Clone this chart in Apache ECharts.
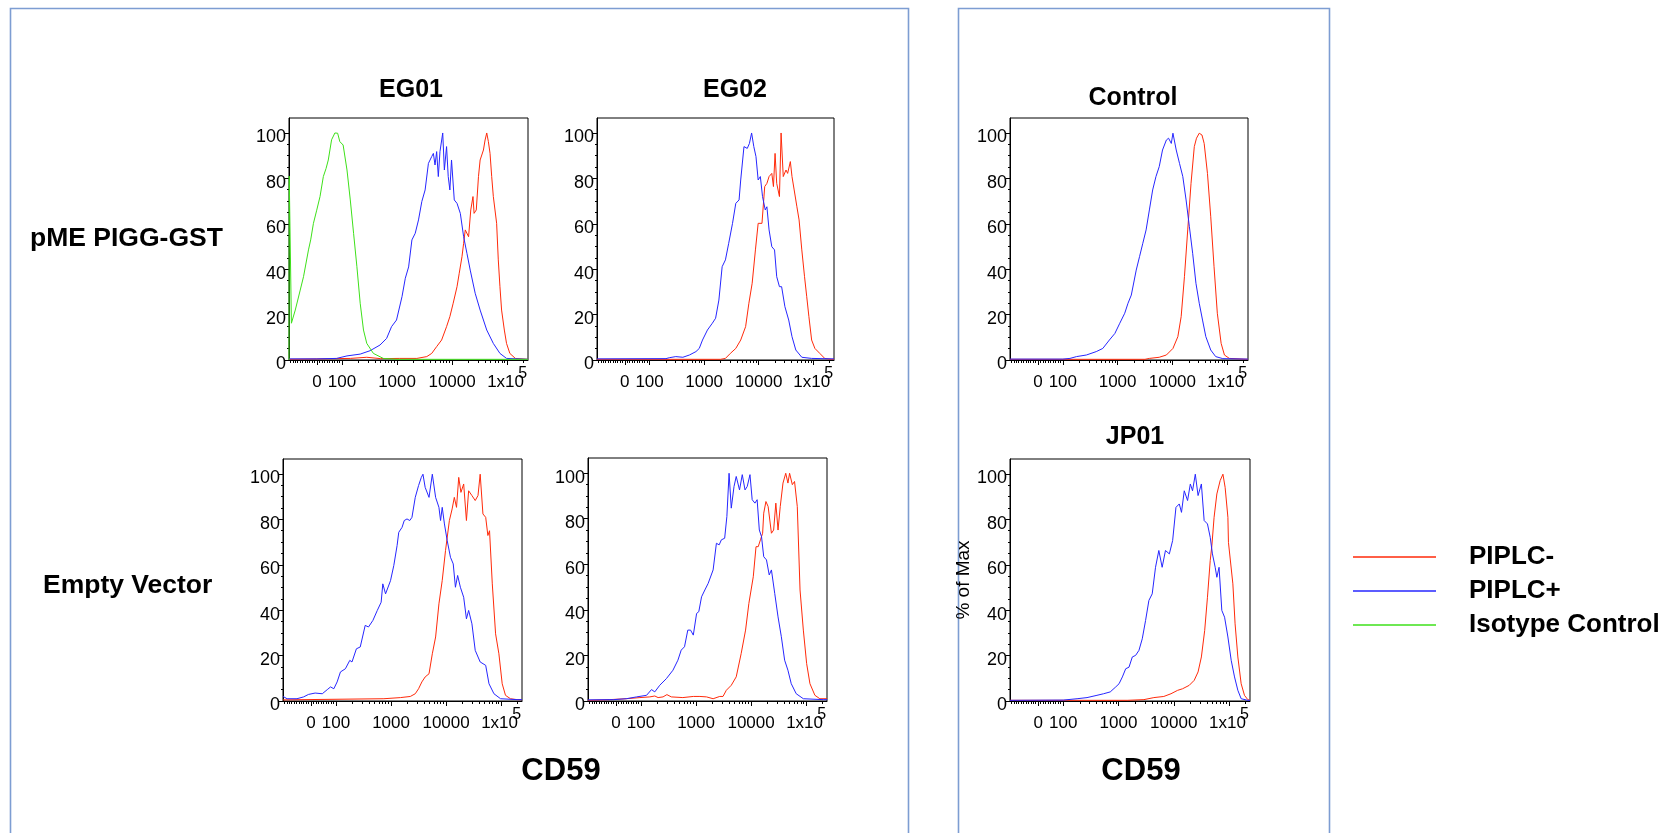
<!DOCTYPE html>
<html><head><meta charset="utf-8">
<script src="https://cdn.jsdelivr.net/npm/echarts@6/dist/echarts.min.js"></script>
<style>html,body{margin:0;padding:0;background:#fff}#c{width:1675px;height:833px}</style>
</head><body><div id="c"></div>
<script>
// ---------------- DATA ----------------
// x values are in axis display units (log10 of CD59 intensity; biexponential region below 100)
const xTickValues = [1.545, 2, 3, 4, 5];
const xTickLabels = ['0', '100', '1000', '10000', '1x10^5'];
const yTickValues = [0, 20, 40, 60, 80, 100];
const yTickLabels = ['0', '20', '40', '60', '80', '100'];
const seriesNames = ['PIPLC-', 'PIPLC+', 'Isotype Control'];
const panelTitles = ['EG01', 'EG02', 'Control', '', '', 'JP01'];
const rowLabels = ['pME PIGG-GST', 'Empty Vector'];
const xAxisTitle = 'CD59';
const yAxisTitle = '% of Max';

const eg01PmeGreen = [[1.036,0],[1.04,81],[1.045,81],[1.08,16.2],[1.15,22],[1.24,30.8],[1.30,36.7],[1.39,48.5],[1.43,52.9],[1.48,60.2],[1.54,66],[1.60,72],[1.66,80.8],[1.71,84.4],[1.75,88.1],[1.81,97],[1.87,100],[1.92,99.9],[1.96,96.2],[2.02,94.7],[2.09,83.7],[2.15,70.5],[2.21,55.8],[2.27,41.1],[2.33,25],[2.39,13.2],[2.45,7.3],[2.57,2.9],[2.75,0.7],[2.99,0.3],[5.38,0.3]];
const eg01PmeBlue = [[1.036,0.5],[1.54,0.5],[1.90,0.7],[2.09,1.8],[2.33,2.6],[2.51,4.1],[2.69,6.6],[2.81,9.5],[2.90,14.7],[2.99,17.6],[3.09,27.9],[3.15,36],[3.21,41],[3.27,52.9],[3.33,55.8],[3.39,61.7],[3.45,69.8],[3.51,74.9],[3.57,86.6],[3.63,89.6],[3.66,91],[3.69,85.9],[3.72,91.8],[3.75,80.8],[3.78,91.8],[3.83,100],[3.86,83.7],[3.90,94],[3.93,80.8],[3.96,74.9],[3.99,88.1],[4.04,70.5],[4.09,69],[4.15,64.6],[4.21,54.3],[4.27,47],[4.33,39.6],[4.42,29.4],[4.51,22],[4.63,13.2],[4.75,7.3],[4.87,2.9],[4.99,0.7],[5.38,0.3]];
const eg01PmeRed = [[1.036,0.3],[2.15,0.7],[2.45,1.2],[2.7,0.6],[3.05,0.7],[3.36,0.7],[3.54,1.5],[3.63,2.9],[3.72,5.9],[3.81,8.8],[3.90,14.7],[3.96,19.1],[4.02,25],[4.09,32.3],[4.13,38.2],[4.18,45.5],[4.21,51.4],[4.24,57.3],[4.27,57.3],[4.30,54.3],[4.34,66.1],[4.38,72],[4.40,64.6],[4.44,66.1],[4.48,80.8],[4.51,88.1],[4.54,90.3],[4.57,92.5],[4.60,96.9],[4.63,100],[4.66,96.2],[4.69,91],[4.72,80.8],[4.75,72],[4.78,72],[4.81,60.2],[4.84,44.1],[4.87,32.3],[4.90,22],[4.95,13.2],[4.99,7.3],[5.05,2.9],[5.15,0.7],[5.38,0.3]];

const eg02PmeBlue = [[1.036,0.5],[2.30,0.6],[2.36,1],[2.48,1.5],[2.61,1.2],[2.73,2.2],[2.85,3.7],[2.91,5.1],[2.97,8.8],[3.06,13.2],[3.15,16.2],[3.21,18.4],[3.27,26.4],[3.33,41.1],[3.39,44.1],[3.45,51.4],[3.52,60.2],[3.58,69],[3.64,70.5],[3.67,79.3],[3.73,94],[3.79,93.2],[3.83,95.4],[3.87,100],[3.91,94],[3.95,89.6],[3.99,79.3],[4.03,80.8],[4.07,72],[4.12,66.1],[4.15,67.5],[4.19,57.3],[4.24,49.9],[4.29,48.5],[4.33,36.7],[4.38,32.3],[4.42,32.3],[4.48,23.5],[4.55,17.6],[4.61,10.3],[4.68,4.4],[4.79,1.2],[4.97,0.7],[5.38,0.5]];
const eg02PmeRed = [[1.036,0.3],[3.30,0.3],[3.39,0.7],[3.48,2.9],[3.58,5.1],[3.67,8.8],[3.76,14.7],[3.82,25],[3.88,33.8],[3.94,48.5],[3.99,60.2],[4.06,60.2],[4.11,76.4],[4.15,77.8],[4.19,80.8],[4.24,82.2],[4.27,76.4],[4.30,91],[4.33,77.8],[4.38,72],[4.41,100],[4.45,80.8],[4.50,83.7],[4.53,82.2],[4.58,87.4],[4.61,80.8],[4.65,74.9],[4.70,67.5],[4.74,61.7],[4.79,48.5],[4.84,36.7],[4.88,27.9],[4.92,19.1],[4.97,8.8],[5.03,5.1],[5.12,2.9],[5.21,0.7],[5.33,0.3],[5.38,0.3]];

const ctrlBlue = [[1.036,0.4],[2.0,0.4],[2.13,0.7],[2.25,1.5],[2.43,2.2],[2.61,3.7],[2.73,5.1],[2.85,8.8],[2.95,11.7],[3.04,16.2],[3.13,20.6],[3.19,25],[3.25,28.6],[3.34,39.6],[3.40,45.5],[3.46,51.4],[3.52,57.3],[3.58,66.1],[3.64,74.9],[3.70,80.8],[3.76,85.2],[3.82,92.5],[3.89,96.9],[3.93,97.7],[3.98,95.4],[4.01,99.9],[4.07,92.5],[4.13,86.6],[4.19,80.8],[4.25,70.5],[4.31,58.7],[4.37,47],[4.43,33.8],[4.49,25],[4.55,17.6],[4.61,10.3],[4.70,4.4],[4.79,1.5],[4.92,0.6],[5.38,0.4]];
const ctrlRed = [[1.036,0.3],[3.5,0.3],[3.58,0.7],[3.76,1.2],[3.89,2.2],[4.01,5.1],[4.10,10.3],[4.16,19.1],[4.22,36.7],[4.28,57.3],[4.34,77.8],[4.40,94],[4.44,97.7],[4.49,99.9],[4.54,99.1],[4.58,95.4],[4.64,82.2],[4.70,63.1],[4.76,41.1],[4.82,20.6],[4.89,7.3],[4.95,2.2],[5.04,0.7],[5.38,0.3]];

const eg01EvBlue = [[1.036,2],[1.05,1.8],[1.11,1],[1.29,1],[1.41,1.8],[1.50,2.9],[1.62,3.5],[1.75,3.2],[1.84,5],[1.90,6.2],[1.96,5.4],[2.02,8.4],[2.08,12.8],[2.17,14.2],[2.25,17.9],[2.29,17.2],[2.37,23],[2.44,23.8],[2.53,33.3],[2.59,32.6],[2.67,35.5],[2.75,39.9],[2.82,43.5],[2.85,51.6],[2.90,47.2],[2.99,53],[3.05,59.7],[3.11,68.5],[3.14,74.3],[3.20,76.5],[3.24,79.5],[3.29,80.2],[3.34,79.5],[3.38,80.9],[3.44,89.7],[3.50,94.9],[3.55,98.5],[3.58,99.9],[3.62,94.1],[3.69,89.7],[3.75,99.9],[3.81,89.7],[3.87,85.3],[3.90,79.5],[3.93,85.3],[3.97,78],[4.02,70.7],[4.08,63.3],[4.13,60.4],[4.17,50.1],[4.21,55.3],[4.26,50.1],[4.32,45.7],[4.37,36.2],[4.41,39.9],[4.47,34],[4.53,22.3],[4.62,17.2],[4.72,15.7],[4.78,7.6],[4.87,3.2],[4.99,1],[5.29,0.6],[5.38,0.6]];
const eg01EvRed = [[1.036,0.5],[2.87,1],[3.17,1.5],[3.35,2],[3.44,3.2],[3.50,5.4],[3.56,8.4],[3.62,10.6],[3.69,12],[3.75,20.8],[3.81,28.2],[3.87,42.8],[3.93,53.1],[3.99,66.3],[4.06,79.5],[4.11,84.6],[4.15,89.7],[4.19,85.3],[4.23,98.5],[4.27,91.9],[4.32,95.6],[4.37,79.5],[4.41,92.6],[4.47,90.5],[4.53,88.3],[4.58,90.5],[4.62,99.9],[4.67,82.4],[4.72,80.9],[4.76,72.9],[4.79,75],[4.84,51.6],[4.90,29.6],[4.96,20.8],[5.02,7.6],[5.08,2.5],[5.17,1],[5.29,0.6],[5.38,0.6]];

const eg02EvBlue = [[1.036,0.5],[1.5,0.6],[1.73,1],[1.92,1.8],[2.10,2.5],[2.19,5],[2.25,4],[2.34,6.9],[2.46,9.8],[2.58,13.5],[2.67,17.9],[2.73,22.3],[2.79,23.8],[2.85,31.1],[2.90,31.1],[2.95,28.9],[3.01,38.4],[3.05,39.2],[3.10,45.7],[3.16,48.7],[3.22,51.6],[3.31,57.5],[3.37,69.2],[3.42,68.5],[3.46,70.7],[3.52,71.4],[3.56,80.9],[3.60,99.9],[3.64,84.6],[3.69,94.1],[3.73,98.5],[3.79,92.6],[3.84,99.3],[3.89,92.6],[3.93,94.1],[3.98,99.3],[4.02,88.3],[4.07,86.8],[4.11,88.3],[4.15,75],[4.19,72.1],[4.23,63.3],[4.28,61.9],[4.33,55.3],[4.37,57.5],[4.43,47.2],[4.49,36.9],[4.55,28.2],[4.61,17.9],[4.67,13.5],[4.73,7.6],[4.82,3.2],[4.95,1],[5.31,0.6],[5.38,0.6]];
const eg02EvRed = [[1.036,0.3],[1.07,0.3],[1.43,0.6],[1.73,1],[1.98,1.5],[2.16,1.8],[2.25,2.2],[2.31,1.5],[2.40,1.8],[2.47,2.8],[2.55,1.8],[2.76,1.5],[2.95,2],[3.07,2],[3.19,1.8],[3.31,1],[3.43,2],[3.49,2],[3.55,4.7],[3.64,6.9],[3.73,10.6],[3.82,20.8],[3.90,31.1],[3.96,42.8],[4.04,54.5],[4.09,67.7],[4.13,67.7],[4.17,70.7],[4.21,73.6],[4.23,82.4],[4.27,87.5],[4.31,85.3],[4.37,73.6],[4.41,75],[4.45,86.8],[4.49,75],[4.53,85.3],[4.58,95.6],[4.63,99.9],[4.67,95.6],[4.70,99.9],[4.75,94.9],[4.79,96.3],[4.84,85.3],[4.89,48.7],[4.95,31.1],[5.01,16.4],[5.07,7.6],[5.16,2.5],[5.25,1],[5.38,1]];

const jp01Blue = [[1.036,0.3],[2.0,0.4],[2.25,1],[2.43,1.5],[2.61,2.5],[2.73,3.2],[2.85,4],[2.95,6.2],[3.01,7.6],[3.07,10.6],[3.13,14.2],[3.19,14.9],[3.25,19.4],[3.31,20.1],[3.37,22.3],[3.43,27.4],[3.49,35.5],[3.55,44.3],[3.61,47.2],[3.67,58.9],[3.73,66.3],[3.79,58.9],[3.85,66.3],[3.92,64.8],[3.98,70.7],[4.04,85.3],[4.10,86.8],[4.14,83.1],[4.19,92.6],[4.25,88.3],[4.30,95.6],[4.34,92.6],[4.39,99.9],[4.44,90.5],[4.50,95.6],[4.55,79.5],[4.61,78],[4.66,72.1],[4.70,64.8],[4.75,58.9],[4.78,54.5],[4.82,58.9],[4.87,39.9],[4.92,36.9],[4.98,28.2],[5.04,17.9],[5.10,10.6],[5.16,4.7],[5.22,1],[5.34,0.3],[5.38,0.3]];
const jp01Red = [[1.036,0.3],[3.16,0.3],[3.46,0.6],[3.64,1.5],[3.82,2],[3.95,3.2],[4.07,4.7],[4.16,5.4],[4.28,6.9],[4.37,9.1],[4.44,12.8],[4.50,19.4],[4.56,31.1],[4.61,45.7],[4.66,61.9],[4.69,68.5],[4.73,80.9],[4.78,91.2],[4.84,97.1],[4.89,99.9],[4.93,94.1],[4.98,80.9],[4.99,69.9],[5.02,69.2],[5.07,51.6],[5.11,34],[5.16,19.4],[5.22,7.6],[5.28,2.5],[5.34,0.6],[5.38,0.3]];

// ---------------- LAYOUT / STYLE ----------------
const FONT = '"Liberation Sans", Arial, Helvetica, sans-serif';
const COLORS = ['#ff2a0a', '#2626ff', '#3ee01a'];
const X_MIN = 1.036, X_MAX = 5.38, Y_MIN = 0, Y_MAX = 106.6;
const GRIDS = [
  {left: 289, top: 118, width: 239, height: 242},
  {left: 597, top: 118, width: 237, height: 242},
  {left: 1010, top: 118, width: 238, height: 242},
  {left: 283, top: 459, width: 239, height: 242},
  {left: 588, top: 458, width: 239, height: 243},
  {left: 1010, top: 459, width: 240, height: 242}
];
// which series (by name index) each panel shows, in drawing order
const PANEL_SERIES = [
  [[0, eg01PmeRed], [1, eg01PmeBlue], [2, eg01PmeGreen]],
  [[0, eg02PmeRed], [1, eg02PmeBlue]],
  [[0, ctrlRed], [1, ctrlBlue]],
  [[0, eg01EvRed], [1, eg01EvBlue]],
  [[0, eg02EvRed], [1, eg02EvBlue]],
  [[0, jp01Red], [1, jp01Blue]]
];

// minor tick positions (axis decoration)
const xMinor = [];
for (let k = 1; k <= 11; k++) xMinor.push(1.545 - k * 0.044);
for (let k = 1; k <= 9; k++) xMinor.push(1.545 + k * 0.0455);
for (let d = 2; d <= 4; d++) for (let m = 2; m <= 9; m++) xMinor.push(d + Math.log10(m));
xMinor.push(5 + Math.log10(2));
const yMinor = [];
for (let v = 5; v < 100; v += 5) if (v % 20 !== 0) yMinor.push(v);

const chart = echarts.init(document.getElementById('c'), null, {renderer: 'canvas'});

const grid = [], xAxis = [], yAxis = [], series = [];
GRIDS.forEach((g, i) => {
  grid.push(Object.assign({show: true, borderColor: '#000', borderWidth: 1, backgroundColor: 'transparent', containLabel: false}, g));
  xAxis.push({
    type: 'value', gridIndex: i, min: X_MIN, max: X_MAX, position: 'bottom',
    axisLine: {show: true, onZero: false, lineStyle: {color: '#000', width: 1}},
    axisTick: {show: true, length: 5, customValues: xTickValues, lineStyle: {color: '#000'}},
    axisLabel: {
      show: true, customValues: xTickValues, margin: 7, color: '#000', fontFamily: FONT,
      formatter: v => {
        let idx = 0, best = 1e9;
        xTickValues.forEach((t, j) => { if (Math.abs(t - v) < best) { best = Math.abs(t - v); idx = j; } });
        const lab = xTickLabels[idx];
        if (lab.indexOf('^') >= 0) { const p = lab.split('^'); return '{n|' + p[0] + '}{s|' + p[1] + '}'; }
        return '{n|' + lab + '}';
      },
      rich: {
        n: {fontSize: 17, lineHeight: 30, fontFamily: FONT, color: '#000'},
        s: {fontSize: 16, lineHeight: 14, width: 3, align: 'right', padding: [0, 0, 16, 0], fontFamily: FONT, color: '#000'}
      }
    },
    splitLine: {show: false}
  });
  xAxis.push({
    type: 'value', gridIndex: i, min: X_MIN, max: X_MAX, position: 'bottom',
    axisLine: {show: false, onZero: false},
    axisTick: {show: true, length: 3, customValues: xMinor, lineStyle: {color: '#000'}},
    axisLabel: {show: false}, splitLine: {show: false}
  });
  yAxis.push({
    type: 'value', gridIndex: i, min: Y_MIN, max: Y_MAX, position: 'left',
    name: i === 5 ? yAxisTitle : '', nameLocation: 'middle', nameGap: 26, nameRotate: 90,
    nameTextStyle: {fontSize: 19, fontFamily: FONT, color: '#000'},
    axisLine: {show: true, onZero: false, lineStyle: {color: '#000', width: 1}},
    axisTick: {show: true, length: 4, customValues: yTickValues, lineStyle: {color: '#000'}},
    axisLabel: {
      show: true, customValues: yTickValues, margin: 3, fontSize: 18, fontFamily: FONT, color: '#000',
      verticalAlign: 'top', lineHeight: 9,
      formatter: v => yTickLabels[yTickValues.indexOf(Math.round(v))] || ''
    },
    splitLine: {show: false}
  });
  yAxis.push({
    type: 'value', gridIndex: i, min: Y_MIN, max: Y_MAX, position: 'left',
    axisLine: {show: false, onZero: false},
    axisTick: {show: true, length: 2, customValues: yMinor, lineStyle: {color: '#000'}},
    axisLabel: {show: false}, splitLine: {show: false}
  });
  PANEL_SERIES[i].forEach(([ni, data]) => {
    series.push({
      type: 'line', name: seriesNames[ni], xAxisIndex: 2 * i, yAxisIndex: 2 * i,
      data: data, showSymbol: false, symbol: 'none', smooth: false, clip: true,
      lineStyle: {color: COLORS[ni], width: 1}, itemStyle: {color: COLORS[ni]},
      silent: true, animation: false, z: 2 + ni
    });
  });
});

const bold = (size) => ({fontSize: size, fontWeight: 'bold', fontFamily: FONT, fill: '#000', align: 'center', verticalAlign: 'middle'});
const graphic = [
  {type: 'rect', shape: {x: 10.5, y: 8.5, width: 898, height: 900}, style: {fill: 'none', stroke: '#7d9dd2', lineWidth: 1.6}, silent: true},
  {type: 'rect', shape: {x: 958.5, y: 8.5, width: 371, height: 900}, style: {fill: 'none', stroke: '#7d9dd2', lineWidth: 1.6}, silent: true},
  {type: 'text', x: 411, y: 90, style: Object.assign(bold(25), {text: panelTitles[0]})},
  {type: 'text', x: 735, y: 90, style: Object.assign(bold(25), {text: panelTitles[1]})},
  {type: 'text', x: 1133, y: 98, style: Object.assign(bold(25), {text: panelTitles[2]})},
  {type: 'text', x: 1135, y: 437, style: Object.assign(bold(25), {text: panelTitles[5]})},
  {type: 'text', x: 30, y: 239, style: Object.assign(bold(26.5), {text: rowLabels[0], align: 'left'})},
  {type: 'text', x: 43, y: 586, style: Object.assign(bold(26.5), {text: rowLabels[1], align: 'left'})},
  {type: 'text', x: 561, y: 771, style: Object.assign(bold(31), {text: xAxisTitle})},
  {type: 'text', x: 1141, y: 771, style: Object.assign(bold(31), {text: xAxisTitle})}
];

chart.setOption({
  animation: false,
  backgroundColor: '#fff',
  grid, xAxis, yAxis, series, graphic,
  legend: {
    show: true, orient: 'vertical', left: 1348, top: 537,
    data: seriesNames, icon: 'rect', itemWidth: 83, itemHeight: 1.5, itemGap: 4,
    selectedMode: false,
    textStyle: {fontSize: 26, fontWeight: 'bold', fontFamily: FONT, color: '#000', lineHeight: 30, padding: [0, 0, 0, 28]}
  }
});
</script></body></html>
